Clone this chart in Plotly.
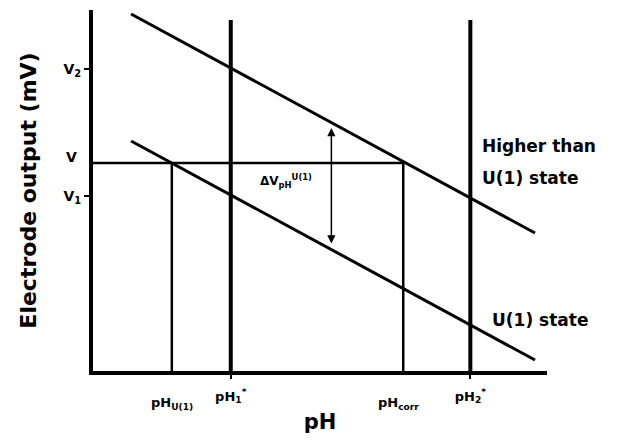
import plotly.graph_objects as go

# ---- data (pH units, mV) read from the schematic ----
upper_ph = [1.92, 10.35]
upper_mv = [718, 280]
lower_ph = [1.92, 10.35]
lower_mv = [464, 26]

V2 = 608
V = 420
V1 = 354

pH_U1 = 2.77
pH1_star = 4.0
pH_corr = 7.6
pH2_star = 9.0

vline_top = 706
axis_bottom = 4

arrow_ph = 6.1
arrow_low = 256
arrow_high = 490

ytick_vals = [V2, V1]
ytick_text = ["<b>V<sub>2</sub></b>", "<b>V<sub>1</sub></b>"]
xtick_vals = [pH1_star, pH2_star]
xtick_text = ["<b>pH<sub>1</sub><sup>*</sup></b>", "<b>pH<sub>2</sub><sup>*</sup></b>"]

FONT = "DejaVu Sans"
BLACK = "#000000"

fig = go.Figure()

def line(x, y, w):
    fig.add_trace(go.Scatter(x=x, y=y, mode="lines",
                             line=dict(color=BLACK, width=w),
                             hoverinfo="skip", showlegend=False))

# thick vertical lines at pH1*, pH2*
line([pH1_star, pH1_star], [axis_bottom, vline_top], 4)
line([pH2_star, pH2_star], [axis_bottom, vline_top], 4)
# thin construction lines
line([1.125, pH_corr], [V, V], 2.5)
line([pH_U1, pH_U1], [axis_bottom, V], 2.5)
line([pH_corr, pH_corr], [axis_bottom, V], 2.5)
# electrode response lines
line(upper_ph, upper_mv, 3)
line(lower_ph, lower_mv, 3)

ann = []
# double arrow
ann.append(dict(x=arrow_ph, y=arrow_high, ax=arrow_ph, ay=arrow_low,
                xref="x", yref="y", axref="x", ayref="y",
                showarrow=True, arrowhead=2, arrowside="end+start",
                arrowsize=1.1, arrowwidth=1.5, arrowcolor=BLACK, text=""))
ann.append(dict(x=5.15, y=384, xref="x", yref="y", showarrow=False,
                text="<b>ΔV<sub>pH</sub><sup>U(1)</sup></b>",
                font=dict(family=FONT, size=12, color=BLACK)))
# tickless labels
ann.append(dict(x=pH_U1, y=-0.06, xref="x", yref="paper", yanchor="top",
                showarrow=False, text="<b>pH<sub>U(1)</sub></b>",
                font=dict(family=FONT, size=13, color=BLACK)))
ann.append(dict(x=pH_corr - 0.1, y=-0.06, xref="x", yref="paper", yanchor="top",
                showarrow=False, text="<b>pH<sub>corr</sub></b>",
                font=dict(family=FONT, size=13, color=BLACK)))
ann.append(dict(x=-0.03, y=V + 12, xref="paper", yref="y", xanchor="right",
                showarrow=False, text="<b>V</b>",
                font=dict(family=FONT, size=14, color=BLACK)))
# state labels
ann.append(dict(x=9.21, y=454, xref="x", yref="y", xanchor="left",
                showarrow=False, text="<b>Higher than</b>",
                font=dict(family=FONT, size=17, color=BLACK)))
ann.append(dict(x=9.21, y=390, xref="x", yref="y", xanchor="left",
                showarrow=False, text="<b>U(1) state</b>",
                font=dict(family=FONT, size=17, color=BLACK)))
ann.append(dict(x=9.42, y=106, xref="x", yref="y", xanchor="left",
                showarrow=False, text="<b>U(1) state</b>",
                font=dict(family=FONT, size=17, color=BLACK)))

fig.update_layout(
    width=618, height=440,
    margin=dict(l=85, r=79, t=2, b=77),
    paper_bgcolor="white", plot_bgcolor="white",
    showlegend=False,
    annotations=ann,
    xaxis=dict(range=[1.125, 10.6], showgrid=False, zeroline=False,
               showline=True, linecolor=BLACK, linewidth=4,
               tickmode="array", tickvals=xtick_vals, ticktext=xtick_text,
               ticks="outside", ticklen=4, tickwidth=2, tickcolor=BLACK,
               ticklabelstandoff=6,
               tickfont=dict(family=FONT, size=13, color=BLACK),
               title=dict(text="<b>pH</b>", standoff=11,
                          font=dict(family=FONT, size=21, color=BLACK))),
    yaxis=dict(range=[4, 726], showgrid=False, zeroline=False,
               showline=True, linecolor=BLACK, linewidth=4,
               tickmode="array", tickvals=ytick_vals, ticktext=ytick_text,
               ticks="outside", ticklen=5, tickwidth=2, tickcolor=BLACK,
               tickfont=dict(family=FONT, size=14, color=BLACK),
               title=dict(text="<b>Electrode output (mV)</b>", standoff=22,
                          font=dict(family=FONT, size=22, color=BLACK))),
)

fig.write_html("out.html")
